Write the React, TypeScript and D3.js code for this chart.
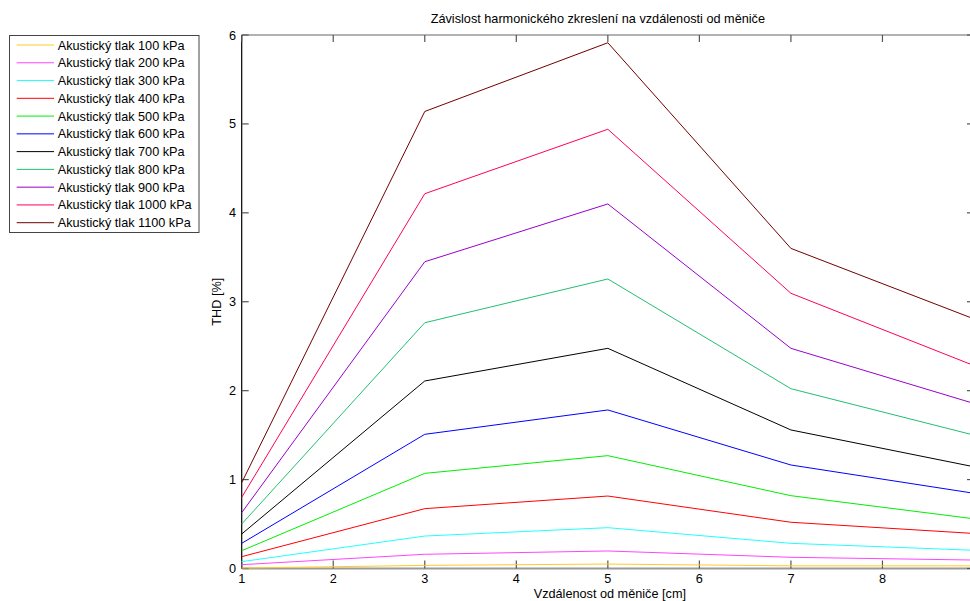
import React from "react";
import * as d3 from "d3";

const xValues = [1, 3, 5, 7, 9];
const seriesNames = [
  "Akustický tlak 100 kPa",
  "Akustický tlak 200 kPa",
  "Akustický tlak 300 kPa",
  "Akustický tlak 400 kPa",
  "Akustický tlak 500 kPa",
  "Akustický tlak 600 kPa",
  "Akustický tlak 700 kPa",
  "Akustický tlak 800 kPa",
  "Akustický tlak 900 kPa",
  "Akustický tlak 1000 kPa",
  "Akustický tlak 1100 kPa",
];
const p100 = [0.005, 0.035, 0.05, 0.03, 0.03];
const p200 = [0.043, 0.16, 0.197, 0.126, 0.095];
const p300 = [0.077, 0.365, 0.459, 0.283, 0.205];
const p400 = [0.133, 0.673, 0.815, 0.52, 0.394];
const p500 = [0.2, 1.07, 1.269, 0.819, 0.559];
const p600 = [0.283, 1.509, 1.783, 1.164, 0.846];
const p700 = [0.388, 2.109, 2.476, 1.558, 1.144];
const p800 = [0.5, 2.764, 3.256, 2.022, 1.5];
const p900 = [0.628, 3.45, 4.1, 2.476, 1.856];
const p1000 = [0.8, 4.215, 4.94, 3.095, 2.282];
const p1100 = [0.965, 5.14, 5.913, 3.6, 2.807];
const seriesValues = [p100, p200, p300, p400, p500, p600, p700, p800, p900, p1000, p1100];
const seriesColors = [
  "#ffcc22",
  "#ff44ff",
  "#22ffff",
  "#ff0000",
  "#00ee00",
  "#0000ff",
  "#000000",
  "#20c070",
  "#9900cc",
  "#ff0055",
  "#700000",
];
const xTicks = [1, 2, 3, 4, 5, 6, 7, 8, 9];
const xTickLabels = ["1", "2", "3", "4", "5", "6", "7", "8"];
const yTicks = [0, 1, 2, 3, 4, 5, 6];
const titleText = "Závislost harmonického zkreslení na vzdálenosti od měniče";
const xLabel = "Vzdálenost od měniče [cm]";
const yLabel = "THD [%]";

const FONT = "'Liberation Sans', Arial, sans-serif";

export default function App() {
  const left = 241.7;
  const right = 974;
  const top = 35;
  const bottom = 568.5;
  const x = d3.scaleLinear().domain([1, 9]).range([left, right]);
  const y = d3.scaleLinear().domain([0, 6]).range([bottom, top]);
  const line = d3
    .line<number>()
    .x((_, i) => x(xValues[i]))
    .y((d) => y(d));
  const fs = 12.7;
  const legX = 9.5;
  const legY = 35.5;
  const legW = 189.5;
  const legH = 197;
  const legStep = 17.77;

  return (
    <svg
      width={970}
      height={601}
      style={{ position: "absolute", left: 0, top: 0, background: "#fff" }}
      fontFamily={FONT}
    >
      <rect x={0} y={0} width={970} height={601} fill="#fff" />
      {/* axes box */}
      <line x1={left} x2={right} y1={top} y2={top} stroke="#999" strokeWidth={1.5} />
      <line x1={left} x2={right} y1={bottom} y2={bottom} stroke="#999" strokeWidth={2} />
      <line x1={left} x2={left} y1={top} y2={bottom} stroke="#000" strokeWidth={1.2} />
      <line x1={right} x2={right} y1={top} y2={bottom} stroke="#000" strokeWidth={1.2} />
      {xTicks.map((t) => (
        <g key={"xt" + t}>
          <line x1={x(t)} x2={x(t)} y1={bottom} y2={bottom - 8} stroke="#555" strokeWidth={1.2} />
          <line x1={x(t)} x2={x(t)} y1={top} y2={top + 7} stroke="#555" strokeWidth={1.2} />
        </g>
      ))}
      {xTickLabels.map((lab, i) => (
        <text key={"xl" + i} x={x(xTicks[i])} y={583} fontSize={fs} textAnchor="middle" fill="#000">
          {lab}
        </text>
      ))}
      {yTicks.map((t) => (
        <g key={"yt" + t}>
          <line x1={left} x2={left + 7} y1={y(t)} y2={y(t)} stroke="#555" strokeWidth={1.2} />
          <line x1={right} x2={right - 7} y1={y(t)} y2={y(t)} stroke="#555" strokeWidth={1.2} />
          <text x={236} y={y(t) + 4.5} fontSize={fs} textAnchor="end" fill="#000">
            {t}
          </text>
        </g>
      ))}
      {/* series */}
      {seriesValues.map((vals, i) => (
        <path
          key={"s" + i}
          d={line(vals) || ""}
          fill="none"
          stroke={seriesColors[i]}
          strokeWidth={1}
          strokeLinejoin="round"
        />
      ))}
      {/* labels */}
      <text x={(left + right) / 2 - 10} y={23} fontSize={fs} textAnchor="middle" fill="#000">
        {titleText}
      </text>
      <text x={(left + right) / 2 + 2} y={598} fontSize={fs} textAnchor="middle" fill="#000">
        {xLabel}
      </text>
      <text
        transform={`translate(221, ${(top + bottom) / 2}) rotate(-90)`}
        fontSize={fs}
        textAnchor="middle"
        fill="#000"
      >
        {yLabel}
      </text>
      {/* legend */}
      <rect x={legX} y={legY} width={legW} height={legH} fill="#fff" stroke="#444" strokeWidth={1} />
      {seriesNames.map((n, i) => {
        const ly = 45 + i * legStep;
        return (
          <g key={"l" + i}>
            <line x1={16.7} x2={54} y1={ly} y2={ly} stroke={seriesColors[i]} strokeWidth={1} />
            <text x={57.7} y={ly + 4.5} fontSize={fs} fill="#000">
              {n}
            </text>
          </g>
        );
      })}
    </svg>
  );
}
